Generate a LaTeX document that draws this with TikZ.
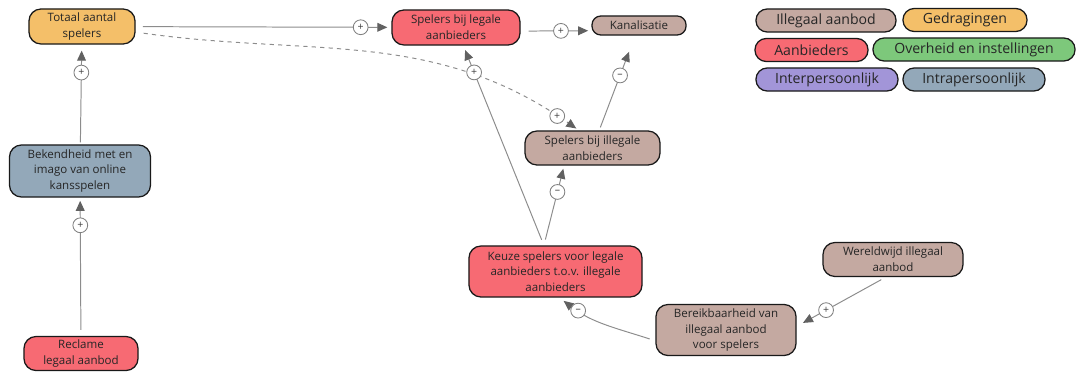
\documentclass[tikz,border=0pt]{standalone}
\usepackage{fontspec}
\setmainfont{Open Sans}
\usetikzlibrary{arrows.meta}
\definecolor{gedrag}{HTML}{F4BF69}
\definecolor{aanbied}{HTML}{F76A73}
\definecolor{illegaal}{HTML}{C4A9A1}
\definecolor{intra}{HTML}{93A8B9}
\definecolor{inter}{HTML}{A295D8}
\definecolor{overheid}{HTML}{7DC87B}
\tikzset{
	factor/.style={draw=black!90, line width=0.9pt, rounded corners=0.3cm, align=center, inner sep=0pt, text=black!85, font=\fontsize{8.2}{11.2}\selectfont},
	legenda/.style={factor, rounded corners=0.28cm, minimum height=0.575cm, font=\fontsize{10}{12}\selectfont},
	link/.style={draw=black!45, line width=0.7pt, -{Triangle[length=0.25cm, width=0.22cm, color=black!62]}},
	teken/.style={circle, solid, draw=black!50, fill=white, line width=0.6pt, minimum size=0.37cm, inner sep=0pt, font=\fontsize{7.5}{7.5}\selectfont, text=black!75},
}

\begin{document}
\begin{tikzpicture}[x=0.025cm, y=-0.025cm]
			%%%%% START %%%%%
			\useasboundingbox (0,0) rectangle (1076,374);
			
			% factoren
			\node[factor, fill=gedrag, minimum width=2.65cm, minimum height=0.875cm] (totaal) at (82,26.5) {Totaal aantal\\spelers};
			\node[factor, fill=aanbied, minimum width=3.2cm, minimum height=0.875cm] (legaal) at (456,27.5) {Spelers bij legale\\aanbieders};
			\node[factor, fill=illegaal, rounded corners=0.22cm, minimum width=2.35cm, minimum height=0.475cm] (kanal) at (639,25.5) {Kanalisatie};
			\node[factor, fill=illegaal, minimum width=3.375cm, minimum height=0.85cm] (illeg) at (592.5,148) {Spelers bij illegale\\aanbieders};
			\node[factor, fill=intra, minimum width=3.525cm, minimum height=1.3cm] (bekend) at (80,171) {Bekendheid met en\\imago van online\\kansspelen};
			\node[factor, fill=aanbied, minimum width=4.325cm, minimum height=1.275cm] (keuze) at (555.5,271.5) {Keuze spelers voor legale\\aanbieders t.o.v. illegale\\aanbieders};
			\node[factor, fill=illegaal, minimum width=3.5cm, minimum height=0.85cm] (wereld) at (893,259.5) {Wereldwijd illegaal\\aanbod};
			\node[factor, fill=illegaal, minimum width=3.5cm, minimum height=1.275cm] (bereik) at (726,330) {Bereikbaarheid van\\illegaal aanbod\\voor spelers};
			\node[factor, fill=aanbied, minimum width=2.85cm, minimum height=0.85cm] (reclame) at (81,353.5) {Reclame\\legaal aanbod};
			
			% legenda
			\node[legenda, fill=illegaal, minimum width=3.5cm] (lgIlleg) at (826,20.5) {Illegaal aanbod};
			\node[legenda, fill=gedrag, minimum width=3.1cm] (lgGedrag) at (965,20) {Gedragingen};
			\node[legenda, fill=aanbied, minimum width=2.825cm] (lgAanb) at (811.5,50) {Aanbieders};
			\node[legenda, fill=overheid, minimum width=5.05cm] (lgOverh) at (974,49.5) {Overheid en instellingen};
			\node[legenda, fill=inter, minimum width=3.55cm] (lgInter) at (827,79.5) {Interpersoonlijk};
			\node[legenda, fill=intra, minimum width=3.55cm] (lgIntra) at (974,79.5) {Intrapersoonlijk};
			
			% verbanden
			\draw[link, shorten <=0.18cm, shorten >=0.1cm] (totaal) -- node[teken, pos=0.88] {+} (legaal);
			\draw[link, dashed, shorten <=0.2cm, shorten >=0.08cm] ([yshift=-0.14cm]totaal.east) to[out=-8, in=145] node[teken, pos=0.95] {+} ([xshift=-0.34cm]illeg.north);
			\draw[link, shorten <=0.2cm, shorten >=0.08cm] ([yshift=-0.09cm]legaal.east) -- node[teken, pos=0.57] {+} ([yshift=-0.13cm]kanal.west);
			\draw[link, shorten <=0.08cm, shorten >=0.43cm] (illeg) -- node[teken, pos=0.58] {--} (kanal);
			\draw[link, shorten <=0.15cm, shorten >=0.12cm] ([xshift=-0.29cm]keuze.north) -- node[teken, pos=0.866] {+} (legaal);
			\draw[link, shorten <=0.15cm, shorten >=0.08cm] ([xshift=-0.29cm]keuze.north) -- node[teken, pos=0.67] {--} ([xshift=-0.71cm]illeg.south);
			\draw[link, shorten <=0.15cm, shorten >=0.13cm] ([yshift=-0.27cm]bereik.west) to[out=162, in=-38] node[teken, pos=0.8] {--} ([xshift=0.1cm]keuze.south);
			\draw[link, shorten <=0.13cm, shorten >=0.18cm] ([xshift=-0.18cm]wereld.south) -- node[teken, pos=0.67] {+} ([yshift=0.09cm]bereik.east);
			\draw[link, shorten <=0.05cm, shorten >=0.15cm] (bekend) -- node[teken, pos=0.72] {+} (totaal);
			\draw[link, shorten <=0.15cm, shorten >=0.08cm] (reclame) -- node[teken, pos=0.8] {+} (bekend);
			
			%%%%% END %%%%%
\end{tikzpicture}
\end{document}
